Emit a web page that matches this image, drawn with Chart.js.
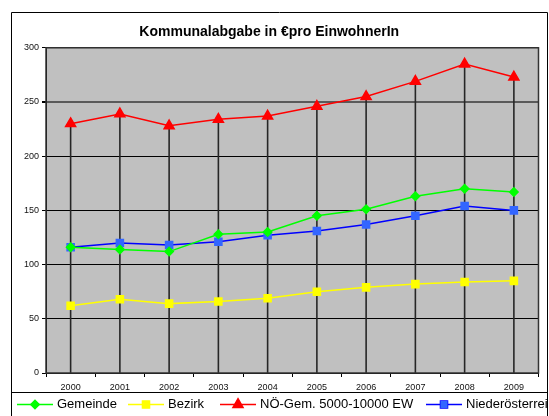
<!DOCTYPE html>
<html>
<head>
<meta charset="utf-8">
<script src="https://cdn.jsdelivr.net/npm/chart.js@4"></script>
<style>
  html, body { margin: 0; padding: 0; background: #fff; }
  #wrap { width: 549px; height: 416px; }
</style>
</head>
<body>
<div id="wrap"><canvas id="myChart" width="549" height="416"></canvas></div>
<script>
const years = ["2000", "2001", "2002", "2003", "2004", "2005", "2006", "2007", "2008", "2009"];
const gemeinde = [116, 114, 112, 128, 130, 145, 151, 163, 170, 167];
const bezirk = [62, 68, 64, 66, 69, 75, 79, 82, 84, 85];
const noeGem = [230, 239, 228, 234, 237, 246, 255, 269, 285, 273];
const niederoesterreich = [116, 120, 118, 121, 127, 131, 137, 145, 154, 150];
const yTicks = [0, 50, 100, 150, 200, 250, 300];
const titleText = "Kommunalabgabe in €pro EinwohnerIn";

function series(label, data, line, fill, style, radius) {
  return {
    label: label,
    data: data,
    borderColor: line,
    backgroundColor: fill,
    pointBackgroundColor: fill,
    pointBorderColor: fill,
    pointStyle: style,
    pointRadius: radius,
    pointHoverRadius: radius,
    borderWidth: 1.5,
    tension: 0,
  };
}

// frame, grey plot area, drop lines and the excel style legend
var excelLook = {
  id: "excelLook",
  beforeDraw(chart) {
    var ctx = chart.ctx;
    var a = chart.chartArea;
    ctx.save();
    ctx.fillStyle = "#c0c0c0";
    ctx.fillRect(a.left, a.top, a.right - a.left, a.bottom - a.top);
    ctx.restore();
  },
  beforeDatasetsDraw(chart) {
    var ctx = chart.ctx;
    var x = chart.scales.x;
    var y = chart.scales.y;
    ctx.save();
    ctx.strokeStyle = "#262626";
    ctx.lineWidth = 1.6;
    for (var i = 0; i < years.length; i++) {
      var top = Math.max.apply(null, chart.data.datasets.map((d) => d.data[i]));
      var px = x.getPixelForValue(i);
      ctx.beginPath();
      ctx.moveTo(px, y.getPixelForValue(top));
      ctx.lineTo(px, y.getPixelForValue(0));
      ctx.stroke();
    }
    ctx.restore();
  },
  afterDraw(chart) {
    var ctx = chart.ctx;
    var a = chart.chartArea;
    ctx.save();
    // plot border
    ctx.strokeStyle = "#333";
    ctx.lineWidth = 1.5;
    ctx.strokeRect(a.left, a.top, a.right - a.left, a.bottom - a.top);
    // outer frame
    ctx.strokeStyle = "#000";
    ctx.lineWidth = 1;
    ctx.beginPath();
    ctx.moveTo(11.5, 430);
    ctx.lineTo(11.5, 12.5);
    ctx.lineTo(547.5, 12.5);
    ctx.lineTo(547.5, 430);
    ctx.moveTo(11.5, 392.5);
    ctx.lineTo(547.5, 392.5);
    ctx.stroke();

    // legend
    ctx.beginPath();
    ctx.rect(12, 393, 535, 30);
    ctx.clip();
    var starts = [17, 128, 220, 426];
    var ly = 404.5;
    ctx.font = "13px Arial, 'Liberation Sans', sans-serif";
    ctx.textBaseline = "middle";
    ctx.textAlign = "left";
    chart.data.datasets.forEach((ds, i) => {
      var sx = starts[i];
      ctx.strokeStyle = ds.borderColor;
      ctx.lineWidth = 1.5;
      ctx.beginPath();
      ctx.moveTo(sx, ly);
      ctx.lineTo(sx + 36, ly);
      ctx.stroke();
      Chart.helpers.drawPoint(ctx, {
        pointStyle: ds.pointStyle,
        radius: ds.pointRadius,
        borderWidth: 1,
        rotation: 0,
      }, sx + 18, ly);
      ctx.fillStyle = ds.pointBackgroundColor;
      ctx.strokeStyle = ds.pointBorderColor;
      ctx.fill();
      ctx.fillStyle = "#000";
      ctx.fillText(ds.label, sx + 40, ly);
    });
    ctx.restore();
  },
};

var canvas = document.getElementById("myChart");
var chart = new Chart(canvas.getContext("2d"), {
  type: "line",
  data: {
    labels: years,
    datasets: [
      series("Gemeinde", gemeinde, "#00ff00", "#00ff00", "rectRot", 4.2),
      series("Bezirk", bezirk, "#ffff00", "#ffff00", "rect", 5),
      series("NÖ-Gem. 5000-10000 EW", noeGem, "#ff0000", "#ff0000", "triangle", 5.8),
      series("Niederösterreich", niederoesterreich, "#0000ff", "#3366ff", "rect", 5),
    ],
  },
  options: {
    responsive: false,
    animation: false,
    events: [],
    layout: { padding: { left: 0, right: 10.5, top: 0, bottom: 0 } },
    plugins: {
      legend: { display: false },
      tooltip: { enabled: false },
      title: {
        display: true,
        text: titleText,
        color: "#000",
        font: { family: "Arial, 'Liberation Sans', sans-serif", size: 14, weight: "bold" },
        padding: { top: 24, bottom: 7 },
      },
    },
    scales: {
      x: {
        offset: true,
        grid: { offset: true, drawOnChartArea: false, drawTicks: true, tickLength: 4, color: "#000" },
        border: { display: true, color: "#000", width: 1 },
        ticks: {
          color: "#111",
          padding: 5,
          maxRotation: 0,
          font: { family: "Arial, 'Liberation Sans', sans-serif", size: 9 },
        },
        afterFit(scale) { scale.height = 43; },
      },
      y: {
        min: 0,
        max: 300,
        afterBuildTicks(scale) { scale.ticks = yTicks.map((v) => ({ value: v })); },
        grid: {
          color: (c) => (c.tick && c.tick.value === 250 ? "#5a5a5a" : "#000"),
          lineWidth: (c) => (c.tick && c.tick.value === 250 ? 2 : 1),
          tickLength: 4,
          tickColor: "#000",
        },
        border: { display: true, color: "#000", width: 1 },
        ticks: {
          color: "#111",
          padding: 3,
          font: { family: "Arial, 'Liberation Sans', sans-serif", size: 9 },
        },
        afterFit(scale) { scale.width = 46; },
      },
    },
  },
  plugins: [excelLook],
});
</script>
</body>
</html>
